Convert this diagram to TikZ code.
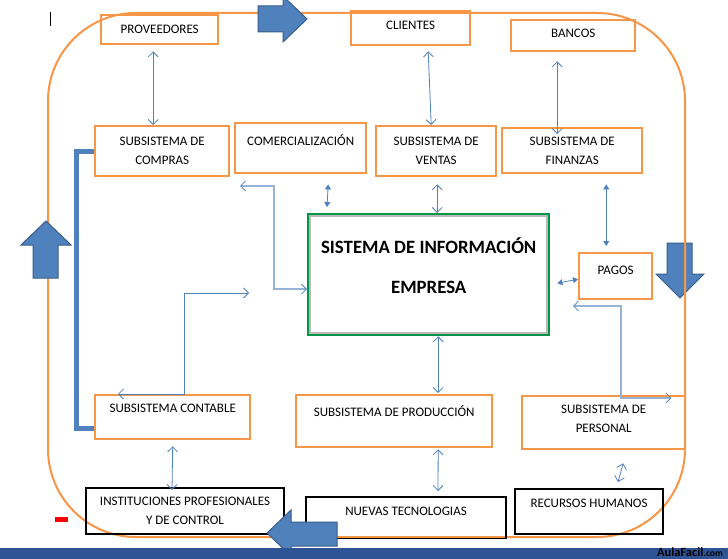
\documentclass[tikz,border=0pt]{standalone}
\usepackage{fontspec}
\setmainfont{Carlito}
\usepackage{tikz}
\usetikzlibrary{arrows.meta}
\definecolor{SIOrange}{RGB}{247,150,70}
\definecolor{SIBlue}{RGB}{79,129,189}
\definecolor{SIBlueDark}{RGB}{56,93,138}
\definecolor{SILight}{RGB}{149,179,215}
\definecolor{SIGreen}{RGB}{0,150,70}
\definecolor{SIBar}{RGB}{47,84,150}

\begin{document}
\begin{tikzpicture}[x=1pt,y=-1pt,
  box/.style={draw=SIOrange,line width=2.4pt,anchor=north west,inner sep=0pt,align=center,font=\fontsize{13}{19}\selectfont,text height=8.4pt,text depth=0pt},
  two/.style={text height=27.4pt,text depth=0pt},lift/.style={text depth=#1},
  ext/.style={box,draw=black,line width=2pt},
  link/.style={SIBlue,line width=0.8pt,{Straight Barb[length=5pt,width=10pt]}-{Straight Barb[length=5pt,width=10pt]}},
  trilink/.style={SIBlue,line width=0.8pt,{Triangle[length=5pt,width=6pt]}-{Triangle[length=5pt,width=6pt]}},
  elbow/.style={SILight,line width=1.5pt,{Straight Barb[length=5pt,width=10pt,color=SIBlue,line width=0.8pt]}-{Straight Barb[length=5pt,width=10pt,color=SIBlue,line width=0.8pt]}},
  bigarrow/.style={fill=SIBlue,draw=SIBlueDark,line width=1pt}]
\useasboundingbox (0,0) rectangle (728,559);
\fill[white] (0,0) rectangle (728,559);
\draw[bigarrow] (667,243)--(692,243)--(692,274)--(704,274)--(680,298)--(656,274)--(667,274)--cycle;
\draw[SIOrange,line width=2pt,rounded corners=88pt] (48,13) rectangle (685,537);
% boxes
\node[box,minimum width=117pt,minimum height=29pt] (prov) at (100,14) {PROVEEDORES};
\node[box,minimum width=119pt,minimum height=34pt,lift=6pt] (cli) at (350,10) {CLIENTES};
\node[box,minimum width=124pt,minimum height=31pt,lift=4pt] (banc) at (510,19) {BANCOS};
\node[box,two,minimum width=134pt,minimum height=50pt] (compras) at (94,125) {SUBSISTEMA DE\\COMPRAS};
\node[box,minimum width=131pt,minimum height=50pt,lift=14pt] (comer) at (234,122) {COMERCIALIZACIÓN};
\node[box,two,minimum width=120pt,minimum height=50pt] (ventas) at (375,125) {SUBSISTEMA DE\\VENTAS};
\node[box,two,minimum width=140pt,minimum height=45pt] (fin) at (501,127) {SUBSISTEMA DE\\FINANZAS};
\node[draw=SIGreen,line width=2.4pt,anchor=north west,inner sep=0pt,minimum width=241pt,minimum height=121pt,align=center,font=\fontsize{18.8}{22}\selectfont\bfseries,text height=51.9pt,text depth=15pt] (sis) at (307,213) {SISTEMA DE INFORMACIÓN\\[18pt]EMPRESA};
\draw[gray!55,line width=2pt] ([shift={(3pt,-3pt)}]sis.north west) rectangle ([shift={(-3pt,3pt)}]sis.south east);
\node[box,minimum width=73pt,minimum height=46pt,lift=12pt] (pagos) at (578,252) {PAGOS};
\node[box,minimum width=155pt,minimum height=44pt,lift=18pt] (cont) at (94,394) {SUBSISTEMA CONTABLE};
\node[box,minimum width=196pt,minimum height=52pt,lift=18pt] (prod) at (295,394) {SUBSISTEMA DE PRODUCCIÓN};
\node[box,two,minimum width=163pt,minimum height=53pt,lift=8pt] (pers) at (521,395) {SUBSISTEMA DE\\PERSONAL};
\node[ext,two,minimum width=198pt,minimum height=46pt] (inst) at (85,487) {INSTITUCIONES PROFESIONALES\\Y DE CONTROL};
\node[ext,minimum width=200pt,minimum height=41pt,lift=12pt] (nuevas) at (305,496) {NUEVAS TECNOLOGIAS};
\node[ext,minimum width=148pt,minimum height=45pt,lift=16pt] (rrhh) at (514,488) {RECURSOS HUMANOS};
\draw[SIOrange,line width=2pt] (305,537)--(505,537);
% connectors
\coordinate (cmk) at (240,186);\coordinate (ctb) at (249,293);\coordinate (pgo) at (573,306);
\draw[link] ([xshift=-6.5pt,yshift=-6pt]prov.south)--([xshift=-9pt]compras.north);
\draw[link] ([xshift=17.5pt,yshift=-5pt]cli.south)--([xshift=-5pt]ventas.north);
\draw[link] ([xshift=-16pt,yshift=-9pt]banc.south)--([xshift=-15pt,yshift=-7pt]fin.north);
\draw[trilink] ([xshift=27.5pt,yshift=-10pt]comer.south)--([xshift=20pt,yshift=6pt]sis.north west);
\draw[link] ([xshift=1pt,yshift=-7pt]ventas.south)--([xshift=8.5pt]sis.north);
\draw[trilink] ([xshift=34pt,yshift=-10pt]fin.south)--([xshift=-9.5pt,yshift=6pt]pagos.north);
\draw[trilink] ([xshift=7pt,yshift=-8.5pt]sis.east)--([yshift=-3pt]pagos.west);
\draw[elbow] (cmk)--++(34,0)|-([yshift=-14.5pt]sis.west);
\draw[link] (ctb)-|([xshift=11.5pt]cont.north)--([xshift=24pt]cont.north west);
\draw[elbow] (pgo)--++(48,0)|-([xshift=-15pt,yshift=-3pt]pers.north east);
\draw[link] ([xshift=9.5pt]sis.south)--([xshift=44pt,yshift=1pt]prod.north);
\draw[link] ([xshift=44pt,yshift=-1pt]prod.south)--([xshift=32pt,yshift=5pt]nuevas.north);
\draw[link] ([xshift=19.5pt,yshift=-13pt]pers.south)--([xshift=29pt,yshift=6pt]rrhh.north);
\draw[link] ([yshift=-6pt]cont.south)--([xshift=-13pt,yshift=-3pt]inst.north);
\draw[SIBlue,line width=5pt] (compras.west)--++(-18,0)|-([yshift=-11pt]cont.west);
% block arrows
\draw[bigarrow] (258,6)--(283,6)--(283,-4)--(307,19)--(283,42)--(283,32)--(258,32)--cycle;
\draw[bigarrow] (33,278)--(33,245)--(21,245)--(46,221)--(71,245)--(58,245)--(58,278)--cycle;
\draw[bigarrow] (337,522)--(291,522)--(291,510)--(267,533)--(291,556)--(291,546)--(337,546)--cycle;
\fill[SIBar] (0,548) rectangle (728,559);
\draw[black,line width=1pt] (50,12)--(50,26);
\fill[red] (55,517) rectangle (68,522);
\node[anchor=base east,inner sep=0pt,font=\fontsize{12.5}{12}\selectfont\bfseries] (aula) at (723,556) {AulaFacil{\fontsize{9.5}{9}\selectfont.com}};
\end{tikzpicture}
\end{document}
